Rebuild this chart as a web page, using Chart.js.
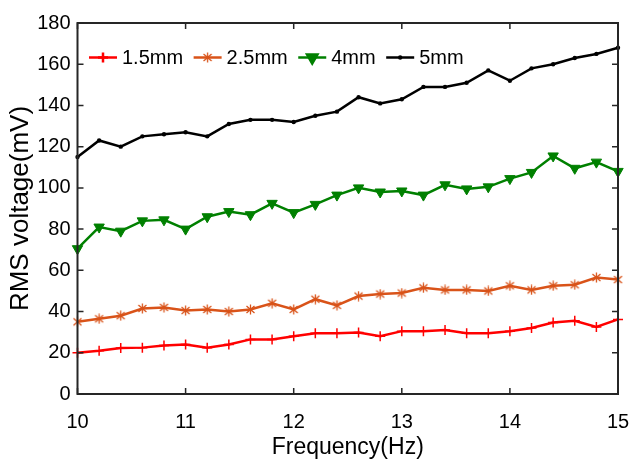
<!DOCTYPE html>
<html>
<head>
<meta charset="utf-8">
<script src="https://cdn.jsdelivr.net/npm/chart.js@4.4.1/dist/chart.umd.min.js"></script>
<style>
  html, body { margin: 0; padding: 0; background: #fff; }
  #wrap { width: 630px; height: 461px; }
</style>
</head>
<body>
<div id="wrap"><canvas id="rmsChart"></canvas></div>
<script>
// frequency steps (Hz)
var freqs = [10, 10.2, 10.4, 10.6, 10.8, 11, 11.2, 11.4, 11.6, 11.8, 12, 12.2, 12.4,
             12.6, 12.8, 13, 13.2, 13.4, 13.6, 13.8, 14, 14.2, 14.4, 14.6, 14.8, 15];

// RMS voltage (mV) for each gap
var gap15 = [20, 21, 22.3, 22.5, 23.5, 24, 22.5, 24, 26.5, 26.5, 28, 29.5, 29.5,
             29.8, 28, 30.5, 30.5, 31, 29.5, 29.5, 30.5, 32, 34.7, 35.5, 32.5, 36.2];
var gap25 = [35, 36.5, 38, 41.5, 42, 40.5, 41, 40, 41, 44, 41, 46, 43,
             47.5, 48.5, 49, 51.5, 50.5, 50.5, 50, 52.5, 50.5, 52.5, 53, 56.5, 55.5];
var gap4 = [70.5, 81, 79, 84, 84.5, 80, 86, 88.5, 87, 92.5, 88, 92, 96.5,
            100, 98, 98.5, 96.5, 101.5, 99.5, 100.5, 104.5, 107.5, 115.5, 109.5, 112.5, 108];
var gap5 = [115, 123, 120, 125, 126, 127, 125, 131, 133, 133, 132, 135, 137,
            144, 141, 143, 149, 149, 151, 157, 152, 158, 160, 163, 165, 168];

var seriesNames = ['1.5mm', '2.5mm', '4mm', '5mm'];
var xTicks = [10, 11, 12, 13, 14, 15];
var yTicks = [0, 20, 40, 60, 80, 100, 120, 140, 160, 180];

var FONT = "'Liberation Sans', Arial, sans-serif";
var AXIS = '#262626';
var ORANGE = '#d95319';

function pts(ys) {
    return ys.map(function (y, i) { return { x: freqs[i], y: y }; });
}

// matlab '*' marker (x plus a vertical bar), chart.js has no such style
function asterisk(color) {
    var c = document.createElement('canvas');
    c.width = 11; c.height = 11;
    var g = c.getContext('2d');
    g.strokeStyle = color;
    g.lineWidth = 1.3;
    g.beginPath();
    g.moveTo(1.5, 2); g.lineTo(9.5, 9);
    g.moveTo(9.5, 2); g.lineTo(1.5, 9);
    g.moveTo(5.5, 0.5); g.lineTo(5.5, 10.5);
    g.stroke();
    return c;
}
var starMark = asterisk(ORANGE);

// box around the plot with inward ticks on every side
var boxPlugin = {
    id: 'matlabBox',
    afterDatasetsDraw: function (chart) {
        var ctx = chart.ctx, a = chart.chartArea;
        var xs = chart.scales.x, ys = chart.scales.y, tl = 6;
        ctx.save();
        ctx.strokeStyle = AXIS;
        ctx.lineWidth = 2;
        ctx.strokeRect(a.left, a.top, a.right - a.left, a.bottom - a.top);
        ctx.lineWidth = 1.5;
        ctx.beginPath();
        xTicks.forEach(function (v) {
            var px = xs.getPixelForValue(v);
            ctx.moveTo(px, a.bottom); ctx.lineTo(px, a.bottom - tl);
            ctx.moveTo(px, a.top); ctx.lineTo(px, a.top + tl);
        });
        yTicks.forEach(function (v) {
            var py = ys.getPixelForValue(v);
            ctx.moveTo(a.left, py); ctx.lineTo(a.left + tl, py);
            ctx.moveTo(a.right, py); ctx.lineTo(a.right - tl, py);
        });
        ctx.stroke();
        ctx.restore();
    }
};

// one-row legend inside the axes, line sample with marker in the middle
var legendPlugin = {
    id: 'rowLegend',
    afterDraw: function (chart) {
        var ctx = chart.ctx, a = chart.chartArea;
        var x = a.left + 11.5, y = a.top + 34.5;
        var seg = 28;
        ctx.save();
        ctx.font = '20px ' + FONT;
        ctx.textBaseline = 'middle';
        chart.data.datasets.forEach(function (ds) {
            ctx.strokeStyle = ds.borderColor;
            ctx.fillStyle = ds.backgroundColor;
            ctx.lineWidth = 2.5;
            ctx.beginPath(); ctx.moveTo(x, y); ctx.lineTo(x + seg, y); ctx.stroke();
            Chart.helpers.drawPoint(ctx, {
                pointStyle: ds.pointStyle,
                radius: ds.pointRadius,
                rotation: ds.pointRotation || 0,
                borderWidth: ds.pointBorderWidth
            }, x + seg / 2, y);
            ctx.fillStyle = '#000';
            ctx.fillText(ds.label, x + seg + 5, y + 1);
            x += seg + 5 + ctx.measureText(ds.label).width + 10.5;
        });
        ctx.restore();
    }
};

var ctx = document.getElementById('rmsChart').getContext('2d');
var rmsChart = new Chart(ctx, {
    type: 'line',
    data: {
        datasets: [{
            label: seriesNames[0], data: pts(gap15),
            borderColor: '#ff0000', backgroundColor: '#ff0000',
            pointStyle: 'cross', pointRadius: 5, pointBorderWidth: 1.5
        }, {
            label: seriesNames[1], data: pts(gap25),
            borderColor: ORANGE, backgroundColor: ORANGE,
            pointStyle: starMark, pointRadius: 4.5, pointBorderWidth: 1
        }, {
            label: seriesNames[2], data: pts(gap4),
            borderColor: '#008000', backgroundColor: '#008000',
            pointStyle: 'triangle', pointRotation: 180, pointRadius: 6, pointBorderWidth: 1
        }, {
            label: seriesNames[3], data: pts(gap5),
            borderColor: '#000000', backgroundColor: '#000000',
            pointStyle: 'circle', pointRadius: 2.2, pointBorderWidth: 0
        }]
    },
    options: {
        responsive: true,
        maintainAspectRatio: false,
        animation: false,
        layout: { padding: { top: 23, right: 12, left: 0, bottom: 0 } },
        elements: {
            line: { borderWidth: 2.5, tension: 0 },
            point: { hoverRadius: 5 }
        },
        datasets: { line: { clip: false } },
        scales: {
            x: {
                type: 'linear', min: 10, max: 15,
                afterFit: function (s) { s.height = 67; s.paddingLeft = 0; s.paddingRight = 0; },
                afterBuildTicks: function (s) { s.ticks = xTicks.map(function (v) { return { value: v }; }); },
                grid: { display: false, drawTicks: false },
                border: { display: false },
                ticks: { color: '#000', padding: 16, font: { family: FONT, size: 20 } },
                title: {
                    display: true, text: 'Frequency(Hz)', color: '#000',
                    padding: { top: 0, bottom: 0 },
                    font: { family: FONT, size: 23 }
                }
            },
            y: {
                min: 0, max: 180,
                afterFit: function (s) { s.width = 77.5; },
                afterBuildTicks: function (s) { s.ticks = yTicks.map(function (v) { return { value: v }; }); },
                grid: { display: false, drawTicks: false },
                border: { display: false },
                ticks: { color: '#000', padding: 7, font: { family: FONT, size: 20 } },
                title: {
                    display: true, text: 'RMS voltage(mV)', color: '#000',
                    padding: { top: 5, bottom: 0 },
                    font: { family: FONT, size: 26 }
                }
            }
        },
        plugins: {
            tooltip: { enabled: false },
            legend: { display: false }
        }
    },
    plugins: [boxPlugin, legendPlugin]
});
</script>
</body>
</html>
